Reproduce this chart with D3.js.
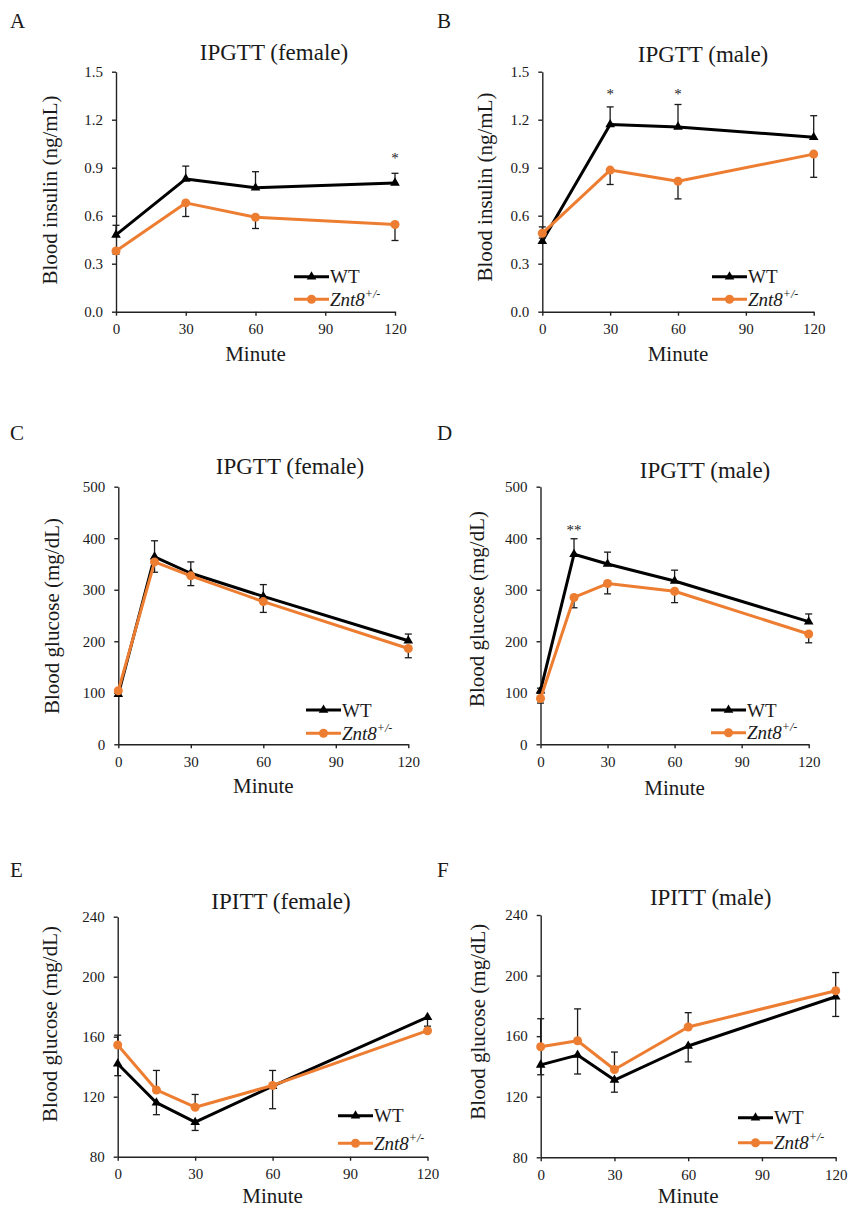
<!DOCTYPE html>
<html>
<head>
<meta charset="utf-8">
<script src="https://cdn.jsdelivr.net/npm/d3@7"></script>
</head>
<body style="margin:0; background:#fff">
<svg id="chart" width="849" height="1210"></svg>
<script>
// sampling times (minutes)
var minutesIns = [0, 30, 60, 120];
var minutesGlu = [0, 15, 30, 60, 120];
var xTicks = [0, 30, 60, 90, 120];

var insulinTicks = [0, 0.3, 0.6, 0.9, 1.2, 1.5];
var gttTicks = [0, 100, 200, 300, 400, 500];
var ittTicks = [80, 120, 160, 200, 240];

// A: IPGTT insulin, female
var insFemWT = [0.48, 0.83, 0.775, 0.805];
var insFemWTErr = [0.06, 0.08, 0.10, 0.06];
var insFemKO = [0.38, 0.68, 0.59, 0.545];
var insFemKOErr = [0.02, 0.085, 0.07, 0.10];

// B: IPGTT insulin, male
var insMaleWT = [0.44, 1.17, 1.155, 1.09];
var insMaleWTErr = [0.09, 0.11, 0.14, 0.135];
var insMaleKO = [0.49, 0.885, 0.815, 0.985];
var insMaleKOErr = [0.03, 0.09, 0.11, 0.145];

// C: IPGTT glucose, female
var gttFemWT = [97, 364, 332, 287, 201];
var gttFemWTErr = [5, 31, 22, 23, 13];
var gttFemKO = [104, 354, 327, 277, 186];
var gttFemKOErr = [5, 20, 19, 21, 18];

// D: IPGTT glucose, male
var gttMaleWT = [104, 369, 350, 317, 238];
var gttMaleWTErr = [5, 30, 23, 21, 15];
var gttMaleKO = [89, 285, 312, 297, 214];
var gttMaleKOErr = [9, 20, 20, 22, 17];

// E: IPITT glucose, female
var ittFemWT = [142, 116, 103, 127, 173];
var ittFemWTErr = [8, 8, 5.5, 15, 9];
var ittFemKO = [154.5, 124.5, 113, 127.5, 164];
var ittFemKOErr = [6.5, 13, 8.5, 10, 3];

// F: IPITT glucose, male
var ittMaleWT = [141, 147.5, 131, 153.5, 186];
var ittMaleWTErr = [6.5, 12.5, 8, 10.5, 13];
var ittMaleKO = [153, 157, 138, 166, 190];
var ittMaleKOErr = [18.5, 21, 11.5, 9.5, 12];

// significance marks: [minute, y value, label]
var starsA = [[120, 0.975, "*"]];
var starsB = [[30, 1.375, "*"], [60, 1.375, "*"]];
var starsD = [[15, 420, "**"]];

var orange = "#ed7d31";
var FONT = "'Liberation Serif', 'Times New Roman', Tinos, serif";
var INK = "#1a1a1a";
var svg = d3.select("#chart").style("font-family", FONT);

svg.append("rect").attr("width", 849).attr("height", 1210).attr("fill", "#fff");

function txt(sel, size) {
  return sel.style("font-family", FONT).style("font-size", size + "px").style("fill", INK);
}

function drawPanel(p) {
  var g = svg.append("g");
  var x = d3.scaleLinear().domain([0, 120]).range([p.left, p.right]);
  var y = d3.scaleLinear().domain(p.yDomain).range([p.bottom, p.top]);

  var xa = g.append("g")
    .attr("transform", `translate(0, ${p.bottom})`)
    .call(d3.axisBottom(x).tickValues(xTicks).tickSize(4).tickSizeOuter(0).tickPadding(8));
  var ya = g.append("g")
    .attr("transform", `translate(${p.left}, 0)`)
    .call(d3.axisLeft(y).tickValues(p.yTicks).tickFormat(p.fmt).tickSize(4).tickSizeOuter(0).tickPadding(9));
  [xa, ya].forEach(a => {
    a.attr("font-family", null);
    a.selectAll("path, line").attr("stroke", "#222").attr("stroke-width", 1.4);
    txt(a.selectAll("text"), 15);
  });

  var line = d3.line()
    .x((d, i) => x(p.minutes[i]))
    .y(d => y(d));

  p.series.forEach(s => {
    // error bars (one-sided, black)
    s.values.forEach((v, i) => {
      var end = v + s.dir * s.err[i];
      var cx = x(p.minutes[i]);
      g.append("line")
        .attr("x1", cx).attr("x2", cx)
        .attr("y1", y(v)).attr("y2", y(end))
        .attr("stroke", INK).attr("stroke-width", 1.3);
      g.append("line")
        .attr("x1", cx - 3.5).attr("x2", cx + 3.5)
        .attr("y1", y(end)).attr("y2", y(end))
        .attr("stroke", INK).attr("stroke-width", 1.3);
    });

    g.append("path")
      .attr("d", line(s.values))
      .attr("fill", "none")
      .attr("stroke", s.color)
      .attr("stroke-width", 3)
      .attr("stroke-linejoin", "round");

    s.values.forEach((v, i) => {
      g.append("path")
        .attr("d", d3.symbol().type(s.shape).size(s.shape === d3.symbolCircle ? 64 : 40)())
        .attr("transform", `translate(${x(p.minutes[i])}, ${y(v)})`)
        .attr("fill", s.color);
    });
  });

  (p.stars || []).forEach(st => {
    txt(g.append("text"), 15)
      .attr("x", x(st[0]))
      .attr("y", y(st[1]) + 7)
      .attr("text-anchor", "middle")
      .text(st[2]);
  });

  // legend
  p.series.forEach((s, k) => {
    var ly = p.legendY + k * p.legendGap;
    g.append("line")
      .attr("x1", p.legendX).attr("x2", p.legendX + 35)
      .attr("y1", ly).attr("y2", ly)
      .attr("stroke", s.color).attr("stroke-width", 3);
    g.append("path")
      .attr("d", d3.symbol().type(s.shape).size(s.shape === d3.symbolCircle ? 64 : 40)())
      .attr("transform", `translate(${p.legendX + 17.5}, ${ly})`)
      .attr("fill", s.color);
    var t = txt(g.append("text"), 19)
      .attr("x", p.legendX + 36)
      .attr("y", ly + 6.5);
    if (s.name === "WT") {
      t.text("WT");
    } else {
      t.append("tspan").style("font-style", "italic").text("Znt8");
      t.append("tspan").style("font-style", "italic").style("font-size", "12px").attr("dy", -8).text("+/-");
    }
  });

  // panel letter, title, axis titles
  txt(svg.append("text"), 21).attr("x", p.letterX).attr("y", p.letterY).text(p.letter);
  txt(svg.append("text"), 23).attr("x", p.titleX).attr("y", p.titleY)
    .attr("text-anchor", "middle").text(p.title);
  txt(svg.append("text"), 21)
    .attr("transform", `translate(${p.ylabX}, ${p.ylabY}) rotate(-90)`)
    .attr("text-anchor", "middle").text(p.ylab);
  txt(svg.append("text"), 21).attr("x", (p.left + p.right) / 2).attr("y", p.xlabY)
    .attr("text-anchor", "middle").text("Minute");
}

function twoSeries(wt, wtErr, wtDir, ko, koErr, koDir) {
  return [
    {name: "WT", values: wt, err: wtErr, dir: wtDir, color: "#000", shape: d3.symbolTriangle},
    {name: "Znt8", values: ko, err: koErr, dir: koDir, color: orange, shape: d3.symbolCircle}
  ];
}

var fmt1 = d3.format(".1f");
var fmt0 = d3.format("d");

var panels = [
  {letter: "A", letterX: 10, letterY: 28, title: "IPGTT (female)", titleX: 274, titleY: 60,
   left: 116, right: 395, top: 71.7, bottom: 311.7, yDomain: [0, 1.5], yTicks: insulinTicks, fmt: fmt1,
   minutes: minutesIns, series: twoSeries(insFemWT, insFemWTErr, 1, insFemKO, insFemKOErr, -1),
   stars: starsA, ylab: "Blood insulin (ng/mL)", ylabX: 57, ylabY: 190, xlabY: 361,
   legendX: 294, legendY: 276.7, legendGap: 22.5},
  {letter: "B", letterX: 437, letterY: 28, title: "IPGTT (male)", titleX: 703, titleY: 61.5,
   left: 542.3, right: 813.7, top: 71.7, bottom: 311.7, yDomain: [0, 1.5], yTicks: insulinTicks, fmt: fmt1,
   minutes: minutesIns, series: twoSeries(insMaleWT, insMaleWTErr, 1, insMaleKO, insMaleKOErr, -1),
   stars: starsB, ylab: "Blood insulin (ng/mL)", ylabX: 491.5, ylabY: 187, xlabY: 361,
   legendX: 712, legendY: 276.7, legendGap: 22.5},
  {letter: "C", letterX: 10, letterY: 440, title: "IPGTT (female)", titleX: 290, titleY: 474,
   left: 118.3, right: 408.3, top: 486.7, bottom: 744.3, yDomain: [0, 500], yTicks: gttTicks, fmt: fmt0,
   minutes: minutesGlu, series: twoSeries(gttFemWT, gttFemWTErr, 1, gttFemKO, gttFemKOErr, -1),
   ylab: "Blood glucose (mg/dL)", ylabX: 59.3, ylabY: 616, xlabY: 793,
   legendX: 306, legendY: 710, legendGap: 23.3},
  {letter: "D", letterX: 437, letterY: 440, title: "IPGTT (male)", titleX: 705, titleY: 478,
   left: 540.5, right: 808.7, top: 486.7, bottom: 744.3, yDomain: [0, 500], yTicks: gttTicks, fmt: fmt0,
   minutes: minutesGlu, series: twoSeries(gttMaleWT, gttMaleWTErr, 1, gttMaleKO, gttMaleKOErr, -1),
   stars: starsD, ylab: "Blood glucose (mg/dL)", ylabX: 484, ylabY: 609, xlabY: 795,
   legendX: 711, legendY: 710, legendGap: 22.7},
  {letter: "E", letterX: 10, letterY: 876.5, title: "IPITT (female)", titleX: 281, titleY: 909,
   left: 117.7, right: 427.5, top: 916.7, bottom: 1156.7, yDomain: [80, 240], yTicks: ittTicks, fmt: fmt0,
   minutes: minutesGlu, series: twoSeries(ittFemWT, ittFemWTErr, -1, ittFemKO, ittFemKOErr, 1),
   ylab: "Blood glucose (mg/dL)", ylabX: 57.3, ylabY: 1024, xlabY: 1203,
   legendX: 338, legendY: 1115.7, legendGap: 27.6},
  {letter: "F", letterX: 437, letterY: 876.5, title: "IPITT (male)", titleX: 710.7, titleY: 905,
   left: 540.7, right: 835.7, top: 915, bottom: 1157.3, yDomain: [80, 240], yTicks: ittTicks, fmt: fmt0,
   minutes: minutesGlu, series: twoSeries(ittMaleWT, ittMaleWTErr, -1, ittMaleKO, ittMaleKOErr, 1),
   ylab: "Blood glucose (mg/dL)", ylabX: 485, ylabY: 1021.7, xlabY: 1203,
   legendX: 738, legendY: 1117.7, legendGap: 25}
];

panels.forEach(drawPanel);
</script>
</body>
</html>
